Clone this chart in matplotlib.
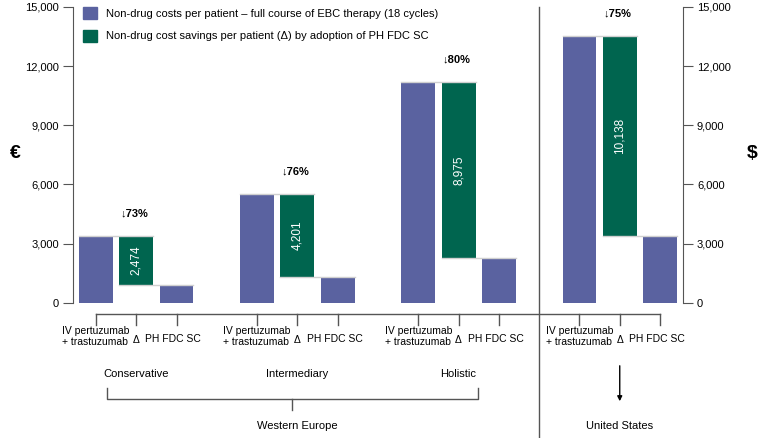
import numpy as np
import matplotlib.pyplot as plt
from matplotlib.patches import Patch

plt.rcParams['font.family'] = ['Liberation Sans', 'DejaVu Sans']

# data
scenarios = ['Conservative', 'Intermediary', 'Holistic', 'United States']
iv_costs = [3389, 5528, 11219, 13517]      # IV pertuzumab + trastuzumab
savings = [2474, 4201, 8975, 10138]        # delta
ph_costs = [915, 1327, 2244, 3379]         # PH FDC SC
pct_drop = [73, 76, 80, 75]
bar_labels = ['IV pertuzumab\n+ trastuzumab', '\u0394', 'PH FDC SC']
legend_labels = ['Non-drug costs per patient \u2013 full course of EBC therapy (18 cycles)',
                 'Non-drug cost savings per patient (\u0394) by adoption of PH FDC SC']
yticks = [0, 3000, 6000, 9000, 12000, 15000]

BLUE = '#5a62a0'
GREEN = '#00654f'
GREY = '#555555'

W, H = 758, 438
fig = plt.figure(figsize=(W / 100, H / 100), dpi=100)
# axes box in pixels: x 73..683, y(top) 7..302.7
ax = fig.add_axes([73 / W, (H - 302.7) / H, 610 / W, 295.7 / H])
ax.set_xlim(-0.57, 14.57)
ax.set_ylim(0, 15000)

per_px = 15000 / 295.7


def ypx(p):
    # figure pixel row -> data y (for the annotations under the axes)
    return (302.7 - p) * per_px


bw = 0.84
all_x = []
for g in range(len(scenarios)):
    x0 = 4 * g
    xs = [x0, x0 + 1, x0 + 2]
    all_x += xs
    iv, sv, ph = iv_costs[g], savings[g], ph_costs[g]
    ax.bar(xs[0], iv, width=bw, color=BLUE)
    ax.bar(xs[1], sv, bottom=ph, width=bw, color=GREEN)
    ax.bar(xs[2], ph, width=bw, color=BLUE)
    # thin connectors
    ax.plot([xs[0] - bw / 2, xs[1] + bw / 2], [iv, iv], color='#d0d0d0', lw=1, zorder=3)
    ax.plot([xs[1] - bw / 2, xs[2] + bw / 2], [ph, ph], color='#d0d0d0', lw=1, zorder=3)
    ax.text(xs[1], ph + sv / 2, f'{sv:,}', rotation=90, color='white',
            ha='center', va='center', fontsize=8.5)
    ax.text(xs[1] - 0.05, iv + 1130, f'\u2193{pct_drop[g]}%', ha='center', va='center',
            fontsize=8, fontweight='bold')
    # category labels under the axis
    ax.text(xs[0], ypx(326), bar_labels[0], ha='center', va='top', fontsize=7.5,
            multialignment='left', linespacing=1.15, clip_on=False)
    ax.text(xs[1], ypx(340), bar_labels[1], ha='center', va='center', fontsize=7.5,
            clip_on=False)
    ax.text(xs[2] - 0.08, ypx(339), bar_labels[2], ha='center', va='center', fontsize=7.5,
            clip_on=False)
    if g < 3:
        ax.text(xs[1], ypx(374), scenarios[g], ha='center', va='center', fontsize=8,
                clip_on=False)

# axis line with ticks below bars
ax.plot([all_x[0], all_x[-1]], [ypx(314), ypx(314)], color=GREY, lw=1, clip_on=False)
for x in all_x:
    ax.plot([x, x], [ypx(314), ypx(325)], color=GREY, lw=1, clip_on=False)

# Western Europe bracket
ax.plot([0.27, 0.27, 9.48, 9.48], [ypx(388), ypx(399), ypx(399), ypx(388)],
        color=GREY, lw=1, clip_on=False)
ax.plot([4.87, 4.87], [ypx(399), ypx(410)], color=GREY, lw=1, clip_on=False)
ax.text(5.0, ypx(426), 'Western Europe', ha='center', va='center', fontsize=8, clip_on=False)

# United States arrow
ax.annotate('', xy=(13, ypx(404)), xytext=(13, ypx(363)),
            arrowprops=dict(arrowstyle='-|>', color='black', lw=1, mutation_scale=7),
            annotation_clip=False)
ax.text(13, ypx(426), scenarios[3], ha='center', va='center', fontsize=8, clip_on=False)

# divider between regions
ax.plot([11, 11], [15000, ypx(438)], color=GREY, lw=1, clip_on=False)

# spines / ticks
for s in ['top', 'bottom']:
    ax.spines[s].set_visible(False)
for s in ['left', 'right']:
    ax.spines[s].set_color(GREY)
ax.set_xticks([])
ax.set_yticks(yticks)
ax.set_yticklabels([f'{t:,}' for t in yticks])
ax.tick_params(axis='y', which='both', left=True, right=True, labelleft=True,
               labelright=True, length=7, color=GREY, labelsize=8, pad=3)

fig.text(15 / W, 1 - 153 / H, '\u20ac', fontsize=14, fontweight='bold', ha='center', va='center')
fig.text(752 / W, 1 - 153 / H, '$', fontsize=14, fontweight='bold', ha='center', va='center')

handles = [Patch(color=BLUE), Patch(color=GREEN)]
ax.legend(handles, legend_labels, loc='upper left', bbox_to_anchor=(10 / 610, 1.0),
          frameon=False, fontsize=8, handlelength=1.25, handleheight=1.25,
          handletextpad=0.8, labelspacing=1.0, borderpad=0, borderaxespad=0)

fig.savefig('out.png', dpi=100)
